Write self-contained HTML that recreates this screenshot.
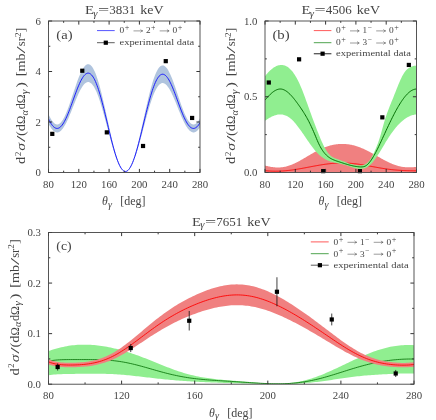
<!DOCTYPE html>
<html><head><meta charset="utf-8"><title>Angular correlations</title>
<style>
html,body{margin:0;padding:0;background:#fff;}
svg{display:block;will-change:transform;}
text{font-family:"Liberation Serif",serif;fill:#444444;}
</style></head>
<body>
<svg width="436" height="420" viewBox="0 0 436 420">
<rect width="436" height="420" fill="#fff"/>
<clipPath id="ca"><rect x="48.5" y="21.0" width="151.5" height="151.5"/></clipPath>
<g clip-path="url(#ca)">
<path d="M48.5 114.14 L49.26 115.79 L50.02 117.31 L50.77 118.71 L51.53 119.97 L52.29 121.09 L53.05 122.05 L53.8 122.86 L54.56 123.51 L55.32 124 L56.08 124.31 L56.83 124.46 L57.59 124.44 L58.35 124.25 L59.11 123.89 L59.86 123.36 L60.62 122.67 L61.38 121.82 L62.13 120.82 L62.89 119.66 L63.65 118.36 L64.41 116.92 L65.16 115.35 L65.92 113.66 L66.68 111.87 L67.44 109.96 L68.19 107.97 L68.95 105.9 L69.71 103.76 L70.47 101.57 L71.22 99.33 L71.98 97.06 L72.74 94.77 L73.5 92.47 L74.25 90.18 L75.01 87.92 L75.77 85.68 L76.53 83.5 L77.28 81.37 L78.04 79.32 L78.8 77.35 L79.56 75.48 L80.31 73.71 L81.07 72.07 L81.83 70.56 L82.59 69.18 L83.34 67.96 L84.1 66.89 L84.86 65.99 L85.62 65.27 L86.38 64.72 L87.13 64.36 L87.89 64.19 L88.65 64.22 L89.41 64.44 L90.16 64.86 L90.92 65.48 L91.68 66.3 L92.44 67.32 L93.19 68.53 L93.95 69.94 L94.71 71.54 L95.47 73.32 L96.22 75.28 L96.98 77.41 L97.74 79.71 L98.5 82.17 L99.25 84.78 L100.01 87.52 L100.77 90.39 L101.53 93.37 L102.28 96.46 L103.04 99.65 L103.8 102.91 L104.56 106.23 L105.31 109.61 L106.07 113.03 L106.83 116.47 L107.59 119.92 L108.34 123.37 L109.1 126.79 L109.86 130.18 L110.61 133.52 L111.37 136.8 L112.13 140.01 L112.89 143.12 L113.64 146.13 L114.4 149.02 L115.16 151.78 L115.92 154.39 L116.67 156.86 L117.43 159.16 L118.19 161.29 L118.95 163.23 L119.7 164.99 L120.46 166.54 L121.22 167.89 L121.98 169.02 L122.73 169.94 L123.49 170.64 L124.25 171.11 L125.01 171.36 L125.77 171.38 L126.52 171.18 L127.28 170.74 L128.04 170.09 L128.8 169.21 L129.55 168.12 L130.31 166.81 L131.07 165.3 L131.82 163.59 L132.58 161.68 L133.34 159.6 L134.1 157.33 L134.85 154.91 L135.61 152.33 L136.37 149.6 L137.13 146.75 L137.88 143.78 L138.64 140.7 L139.4 137.53 L140.16 134.29 L140.91 130.98 L141.67 127.62 L142.43 124.22 L143.19 120.81 L143.94 117.38 L144.7 113.97 L145.46 110.58 L146.22 107.23 L146.98 103.92 L147.73 100.68 L148.49 97.52 L149.25 94.45 L150 91.48 L150.76 88.63 L151.52 85.91 L152.28 83.32 L153.03 80.87 L153.79 78.58 L154.55 76.46 L155.31 74.51 L156.06 72.73 L156.82 71.14 L157.58 69.74 L158.34 68.53 L159.09 67.51 L159.85 66.69 L160.61 66.07 L161.37 65.65 L162.12 65.42 L162.88 65.39 L163.64 65.55 L164.4 65.9 L165.16 66.44 L165.91 67.15 L166.67 68.04 L167.43 69.09 L168.19 70.3 L168.94 71.65 L169.7 73.15 L170.46 74.77 L171.22 76.51 L171.97 78.36 L172.73 80.31 L173.49 82.34 L174.25 84.44 L175 86.6 L175.76 88.8 L176.52 91.04 L177.28 93.3 L178.03 95.56 L178.79 97.82 L179.55 100.06 L180.31 102.26 L181.06 104.42 L181.82 106.53 L182.58 108.56 L183.34 110.51 L184.09 112.38 L184.85 114.14 L185.61 115.79 L186.37 117.31 L187.12 118.71 L187.88 119.97 L188.64 121.09 L189.4 122.05 L190.15 122.86 L190.91 123.51 L191.67 124 L192.42 124.31 L193.18 124.46 L193.94 124.44 L194.7 124.25 L195.45 123.89 L196.21 123.36 L196.97 122.67 L197.73 121.82 L198.48 120.82 L199.24 119.66 L200 118.36 L200 127.3 L199.24 128.38 L198.48 129.35 L197.73 130.19 L196.97 130.9 L196.21 131.48 L195.45 131.92 L194.7 132.22 L193.94 132.38 L193.18 132.4 L192.42 132.27 L191.67 132.01 L190.91 131.6 L190.15 131.06 L189.4 130.38 L188.64 129.58 L187.88 128.65 L187.12 127.59 L186.37 126.43 L185.61 125.15 L184.85 123.78 L184.09 122.31 L183.34 120.75 L182.58 119.12 L181.82 117.42 L181.06 115.66 L180.31 113.86 L179.55 112.02 L178.79 110.15 L178.03 108.27 L177.28 106.38 L176.52 104.49 L175.76 102.62 L175 100.78 L174.25 98.98 L173.49 97.23 L172.73 95.53 L171.97 93.91 L171.22 92.37 L170.46 90.91 L169.7 89.55 L168.94 88.31 L168.19 87.17 L167.43 86.17 L166.67 85.29 L165.91 84.55 L165.16 83.95 L164.4 83.51 L163.64 83.21 L162.88 83.08 L162.12 83.1 L161.37 83.29 L160.61 83.65 L159.85 84.16 L159.09 84.85 L158.34 85.7 L157.58 86.71 L156.82 87.88 L156.06 89.21 L155.31 90.69 L154.55 92.32 L153.79 94.09 L153.03 96 L152.28 98.04 L151.52 100.21 L150.76 102.48 L150 104.86 L149.25 107.34 L148.49 109.9 L147.73 112.54 L146.98 115.25 L146.22 118 L145.46 120.8 L144.7 123.64 L143.94 126.49 L143.19 129.34 L142.43 132.19 L141.67 135.03 L140.91 137.83 L140.16 140.6 L139.4 143.31 L138.64 145.95 L137.88 148.52 L137.13 151 L136.37 153.38 L135.61 155.66 L134.85 157.81 L134.1 159.84 L133.34 161.73 L132.58 163.47 L131.82 165.06 L131.07 166.49 L130.31 167.75 L129.55 168.84 L128.8 169.75 L128.04 170.49 L127.28 171.03 L126.52 171.39 L125.77 171.57 L125.01 171.55 L124.25 171.34 L123.49 170.95 L122.73 170.36 L121.98 169.6 L121.22 168.65 L120.46 167.52 L119.7 166.23 L118.95 164.76 L118.19 163.14 L117.43 161.36 L116.67 159.44 L115.92 157.38 L115.16 155.2 L114.4 152.89 L113.64 150.48 L112.89 147.97 L112.13 145.37 L111.37 142.7 L110.61 139.96 L109.86 137.17 L109.1 134.34 L108.34 131.48 L107.59 128.6 L106.83 125.72 L106.07 122.85 L105.31 120 L104.56 117.18 L103.8 114.4 L103.04 111.68 L102.28 109.02 L101.53 106.44 L100.77 103.95 L100.01 101.55 L99.25 99.26 L98.5 97.09 L97.74 95.04 L96.98 93.12 L96.22 91.33 L95.47 89.7 L94.71 88.21 L93.95 86.87 L93.19 85.7 L92.44 84.69 L91.68 83.84 L90.92 83.15 L90.16 82.64 L89.41 82.29 L88.65 82.1 L87.89 82.08 L87.13 82.22 L86.38 82.52 L85.62 82.98 L84.86 83.58 L84.1 84.33 L83.34 85.22 L82.59 86.24 L81.83 87.39 L81.07 88.65 L80.31 90.03 L79.56 91.5 L78.8 93.06 L78.04 94.71 L77.28 96.42 L76.53 98.2 L75.77 100.02 L75.01 101.88 L74.25 103.78 L73.5 105.69 L72.74 107.6 L71.98 109.52 L71.22 111.41 L70.47 113.28 L69.71 115.11 L68.95 116.9 L68.19 118.63 L67.44 120.29 L66.68 121.88 L65.92 123.38 L65.16 124.79 L64.41 126.1 L63.65 127.3 L62.89 128.38 L62.13 129.35 L61.38 130.19 L60.62 130.9 L59.86 131.48 L59.11 131.92 L58.35 132.22 L57.59 132.38 L56.83 132.4 L56.08 132.27 L55.32 132.01 L54.56 131.6 L53.8 131.06 L53.05 130.38 L52.29 129.58 L51.53 128.65 L50.77 127.59 L50.02 126.43 L49.26 125.15 L48.5 123.78 Z" fill="#B0C4DE" stroke="none"/>
<path d="M48.5 118.96 L49.26 120.47 L50.02 121.87 L50.77 123.15 L51.53 124.31 L52.29 125.33 L53.05 126.22 L53.8 126.96 L54.56 127.56 L55.32 128 L56.08 128.29 L56.83 128.43 L57.59 128.41 L58.35 128.23 L59.11 127.9 L59.86 127.42 L60.62 126.79 L61.38 126.01 L62.13 125.08 L62.89 124.02 L63.65 122.83 L64.41 121.51 L65.16 120.07 L65.92 118.52 L66.68 116.87 L67.44 115.13 L68.19 113.3 L68.95 111.4 L69.71 109.44 L70.47 107.42 L71.22 105.37 L71.98 103.29 L72.74 101.19 L73.5 99.08 L74.25 96.98 L75.01 94.9 L75.77 92.85 L76.53 90.85 L77.28 88.9 L78.04 87.01 L78.8 85.21 L79.56 83.49 L80.31 81.87 L81.07 80.36 L81.83 78.97 L82.59 77.71 L83.34 76.59 L84.1 75.61 L84.86 74.79 L85.62 74.12 L86.38 73.62 L87.13 73.29 L87.89 73.14 L88.65 73.16 L89.41 73.36 L90.16 73.75 L90.92 74.32 L91.68 75.07 L92.44 76 L93.19 77.11 L93.95 78.41 L94.71 79.87 L95.47 81.51 L96.22 83.31 L96.98 85.27 L97.74 87.38 L98.5 89.63 L99.25 92.02 L100.01 94.53 L100.77 97.17 L101.53 99.91 L102.28 102.74 L103.04 105.66 L103.8 108.65 L104.56 111.7 L105.31 114.8 L106.07 117.94 L106.83 121.1 L107.59 124.26 L108.34 127.42 L109.1 130.57 L109.86 133.68 L110.61 136.74 L111.37 139.75 L112.13 142.69 L112.89 145.54 L113.64 148.3 L114.4 150.95 L115.16 153.49 L115.92 155.89 L116.67 158.15 L117.43 160.26 L118.19 162.21 L118.95 164 L119.7 165.61 L120.46 167.03 L121.22 168.27 L121.98 169.31 L122.73 170.15 L123.49 170.79 L124.25 171.23 L125.01 171.45 L125.77 171.47 L126.52 171.28 L127.28 170.89 L128.04 170.29 L128.8 169.48 L129.55 168.48 L130.31 167.28 L131.07 165.89 L131.82 164.32 L132.58 162.58 L133.34 160.66 L134.1 158.59 L134.85 156.36 L135.61 153.99 L136.37 151.49 L137.13 148.88 L137.88 146.15 L138.64 143.33 L139.4 140.42 L140.16 137.44 L140.91 134.41 L141.67 131.32 L142.43 128.21 L143.19 125.07 L143.94 121.93 L144.7 118.8 L145.46 115.69 L146.22 112.61 L146.98 109.58 L147.73 106.61 L148.49 103.71 L149.25 100.9 L150 98.17 L150.76 95.56 L151.52 93.06 L152.28 90.68 L153.03 88.44 L153.79 86.34 L154.55 84.39 L155.31 82.6 L156.06 80.97 L156.82 79.51 L157.58 78.22 L158.34 77.11 L159.09 76.18 L159.85 75.43 L160.61 74.86 L161.37 74.47 L162.12 74.26 L162.88 74.23 L163.64 74.38 L164.4 74.71 L165.16 75.2 L165.91 75.85 L166.67 76.66 L167.43 77.63 L168.19 78.74 L168.94 79.98 L169.7 81.35 L170.46 82.84 L171.22 84.44 L171.97 86.14 L172.73 87.92 L173.49 89.78 L174.25 91.71 L175 93.69 L175.76 95.71 L176.52 97.77 L177.28 99.84 L178.03 101.91 L178.79 103.99 L179.55 106.04 L180.31 108.06 L181.06 110.04 L181.82 111.97 L182.58 113.84 L183.34 115.63 L184.09 117.34 L184.85 118.96 L185.61 120.47 L186.37 121.87 L187.12 123.15 L187.88 124.31 L188.64 125.33 L189.4 126.22 L190.15 126.96 L190.91 127.56 L191.67 128 L192.42 128.29 L193.18 128.43 L193.94 128.41 L194.7 128.23 L195.45 127.9 L196.21 127.42 L196.97 126.79 L197.73 126.01 L198.48 125.08 L199.24 124.02 L200 122.83" fill="none" stroke="#1414ff" stroke-width="0.95" stroke-linejoin="round"/>
</g>
<rect x="50.19" y="131.77" width="4.2" height="4.2" fill="#000"/>
<rect x="80.18" y="68.64" width="4.2" height="4.2" fill="#000"/>
<rect x="104.73" y="130.25" width="4.2" height="4.2" fill="#000"/>
<rect x="140.94" y="143.89" width="4.2" height="4.2" fill="#000"/>
<rect x="163.66" y="59.05" width="4.2" height="4.2" fill="#000"/>
<rect x="190.02" y="115.86" width="4.2" height="4.2" fill="#000"/>
<path d="M48.5 172.5 v-3.6 M48.5 21.0 v3.6" stroke="#2a2a2a" stroke-width="0.95" fill="none"/>
<path d="M63.65 172.5 v-1.8 M63.65 21.0 v1.8" stroke="#2a2a2a" stroke-width="0.95" fill="none"/>
<path d="M78.8 172.5 v-3.6 M78.8 21.0 v3.6" stroke="#2a2a2a" stroke-width="0.95" fill="none"/>
<path d="M93.95 172.5 v-1.8 M93.95 21.0 v1.8" stroke="#2a2a2a" stroke-width="0.95" fill="none"/>
<path d="M109.1 172.5 v-3.6 M109.1 21.0 v3.6" stroke="#2a2a2a" stroke-width="0.95" fill="none"/>
<path d="M124.25 172.5 v-1.8 M124.25 21.0 v1.8" stroke="#2a2a2a" stroke-width="0.95" fill="none"/>
<path d="M139.4 172.5 v-3.6 M139.4 21.0 v3.6" stroke="#2a2a2a" stroke-width="0.95" fill="none"/>
<path d="M154.55 172.5 v-1.8 M154.55 21.0 v1.8" stroke="#2a2a2a" stroke-width="0.95" fill="none"/>
<path d="M169.7 172.5 v-3.6 M169.7 21.0 v3.6" stroke="#2a2a2a" stroke-width="0.95" fill="none"/>
<path d="M184.85 172.5 v-1.8 M184.85 21.0 v1.8" stroke="#2a2a2a" stroke-width="0.95" fill="none"/>
<path d="M200 172.5 v-3.6 M200 21.0 v3.6" stroke="#2a2a2a" stroke-width="0.95" fill="none"/>
<path d="M48.5 147.25 h1.8 M200.0 147.25 h-1.8" stroke="#2a2a2a" stroke-width="0.95" fill="none"/>
<path d="M48.5 96.75 h1.8 M200.0 96.75 h-1.8" stroke="#2a2a2a" stroke-width="0.95" fill="none"/>
<path d="M48.5 46.25 h1.8 M200.0 46.25 h-1.8" stroke="#2a2a2a" stroke-width="0.95" fill="none"/>
<path d="M48.5 172.5 h3.6 M200.0 172.5 h-3.6" stroke="#2a2a2a" stroke-width="0.95" fill="none"/>
<path d="M48.5 122 h3.6 M200.0 122 h-3.6" stroke="#2a2a2a" stroke-width="0.95" fill="none"/>
<path d="M48.5 71.5 h3.6 M200.0 71.5 h-3.6" stroke="#2a2a2a" stroke-width="0.95" fill="none"/>
<path d="M48.5 21 h3.6 M200.0 21 h-3.6" stroke="#2a2a2a" stroke-width="0.95" fill="none"/>
<rect x="48.5" y="21.0" width="151.5" height="151.5" fill="none" stroke="#444444" stroke-width="0.9"/>
<text x="48.5" y="187.5" font-size="10.8" text-anchor="middle">80</text>
<text x="78.8" y="187.5" font-size="10.8" text-anchor="middle">120</text>
<text x="109.1" y="187.5" font-size="10.8" text-anchor="middle">160</text>
<text x="139.4" y="187.5" font-size="10.8" text-anchor="middle">200</text>
<text x="169.7" y="187.5" font-size="10.8" text-anchor="middle">240</text>
<text x="200" y="187.5" font-size="10.8" text-anchor="middle">280</text>
<text x="40.9" y="176.1" font-size="10.8" text-anchor="end">0</text>
<text x="40.9" y="125.6" font-size="10.8" text-anchor="end">2</text>
<text x="40.9" y="75.1" font-size="10.8" text-anchor="end">4</text>
<text x="40.9" y="24.6" font-size="10.8" text-anchor="end">6</text>
<text x="84.95" y="14.1" font-size="13" textLength="9" lengthAdjust="spacingAndGlyphs">E</text><text x="93.15" y="16.5" font-size="9.5" textLength="4.2" lengthAdjust="spacingAndGlyphs" font-style="italic">γ</text><text x="98.05" y="14.1" font-size="13" textLength="11.2" lengthAdjust="spacingAndGlyphs">=</text><text x="109.25" y="14.1" font-size="13" textLength="26" lengthAdjust="spacingAndGlyphs">3831</text><text x="140.15" y="14.1" font-size="13" textLength="23.4" lengthAdjust="spacingAndGlyphs">keV</text>
<text x="101.95" y="205.3" font-size="13" textLength="5.8" lengthAdjust="spacingAndGlyphs" font-style="italic">θ</text><text x="108.05" y="207.7" font-size="9.5" textLength="4" lengthAdjust="spacingAndGlyphs" font-style="italic">γ</text><text x="120.15" y="205.3" font-size="13" textLength="25.3" lengthAdjust="spacingAndGlyphs">[deg]</text>
<g transform="translate(25.4 164.0) rotate(-90)"><text x="0" y="0" font-size="13" textLength="7.2" lengthAdjust="spacingAndGlyphs">d</text><text x="7.9" y="-4.7" font-size="9" textLength="4.3" lengthAdjust="spacingAndGlyphs">2</text><text x="13.3" y="0" font-size="13" textLength="7.8" lengthAdjust="spacingAndGlyphs" font-style="italic">σ</text><text x="21.9" y="0" font-size="13" textLength="6.5" lengthAdjust="spacingAndGlyphs">/</text><text x="28" y="0" font-size="13" textLength="11.9" lengthAdjust="spacingAndGlyphs">(d</text><text x="40.1" y="0" font-size="13" textLength="8.3" lengthAdjust="spacingAndGlyphs">Ω</text><text x="48.5" y="2.2" font-size="9.5" textLength="5.3" lengthAdjust="spacingAndGlyphs" font-style="italic">α</text><text x="54.7" y="0" font-size="13" textLength="14.9" lengthAdjust="spacingAndGlyphs">dΩ</text><text x="69.8" y="2.2" font-size="9.5" textLength="4.6" lengthAdjust="spacingAndGlyphs" font-style="italic">γ</text><text x="76.6" y="0" font-size="13" textLength="5.4" lengthAdjust="spacingAndGlyphs">)</text><text x="87.8" y="0" font-size="13" textLength="22.8" lengthAdjust="spacingAndGlyphs">[mb</text><text x="110.5" y="0" font-size="13" textLength="7.4" lengthAdjust="spacingAndGlyphs">/</text><text x="117.8" y="0" font-size="13" textLength="9" lengthAdjust="spacingAndGlyphs">sr</text><text x="126.9" y="-4.7" font-size="9" textLength="4.5" lengthAdjust="spacingAndGlyphs">2</text><text x="131.6" y="0" font-size="13" textLength="5" lengthAdjust="spacingAndGlyphs">]</text></g>
<text x="56.3" y="38.8" font-size="13" textLength="16.2" lengthAdjust="spacingAndGlyphs">(a)</text>
<path d="M97 30.6 H114.7" stroke="#2a2aff" stroke-width="0.8"/>
<text x="119.5" y="33.2" font-size="9" textLength="4.7" lengthAdjust="spacingAndGlyphs" fill="#4a4a4a">0</text><text x="124.8" y="30.1" font-size="7.5" textLength="4.6" lengthAdjust="spacingAndGlyphs" fill="#4a4a4a">+</text><path d="M133.5 30.9 H142.7" stroke="#4a4a4a" stroke-width="0.55" fill="none"/><path d="M140.5 29.4 Q141.5 30.6 142.7 30.9 Q141.5 31.2 140.5 32.4" stroke="#4a4a4a" stroke-width="0.55" fill="none"/><text x="146.1" y="33.2" font-size="9" textLength="4.6" lengthAdjust="spacingAndGlyphs" fill="#4a4a4a">2</text><text x="150.9" y="30.1" font-size="7.5" textLength="4.4" lengthAdjust="spacingAndGlyphs" fill="#4a4a4a">+</text><path d="M159.7 30.9 H169.1" stroke="#4a4a4a" stroke-width="0.55" fill="none"/><path d="M166.9 29.4 Q167.9 30.6 169.1 30.9 Q167.9 31.2 166.9 32.4" stroke="#4a4a4a" stroke-width="0.55" fill="none"/><text x="172.5" y="33.2" font-size="9" textLength="4.7" lengthAdjust="spacingAndGlyphs" fill="#4a4a4a">0</text><text x="177.8" y="30.1" font-size="7.5" textLength="4.6" lengthAdjust="spacingAndGlyphs" fill="#4a4a4a">+</text>
<path d="M97 42.7 H114.7" stroke="#333" stroke-width="0.8"/>
<rect x="103.7" y="40.6" width="4.2" height="4.2" fill="#000"/>
<text x="119.5" y="45.3" font-size="9" textLength="74.7" lengthAdjust="spacingAndGlyphs" fill="#4a4a4a">experimental data</text>
<clipPath id="cb"><rect x="265.0" y="21.0" width="151.5" height="151.5"/></clipPath>
<g clip-path="url(#cb)">
<path d="M265 165.56 L265.76 165.75 L266.51 165.93 L267.27 166.11 L268.03 166.29 L268.79 166.45 L269.55 166.61 L270.3 166.75 L271.06 166.89 L271.82 167.01 L272.57 167.12 L273.33 167.22 L274.09 167.3 L274.85 167.37 L275.61 167.43 L276.36 167.47 L277.12 167.49 L277.88 167.5 L278.63 167.49 L279.39 167.47 L280.15 167.43 L280.91 167.37 L281.67 167.29 L282.42 167.2 L283.18 167.09 L283.94 166.96 L284.69 166.81 L285.45 166.65 L286.21 166.47 L286.97 166.27 L287.73 166.05 L288.48 165.82 L289.24 165.57 L290 165.31 L290.75 165.03 L291.51 164.74 L292.27 164.44 L293.03 164.12 L293.79 163.78 L294.54 163.44 L295.3 163.08 L296.06 162.71 L296.81 162.33 L297.57 161.94 L298.33 161.54 L299.09 161.13 L299.85 160.72 L300.6 160.3 L301.36 159.87 L302.12 159.44 L302.88 159 L303.63 158.56 L304.39 158.11 L305.15 157.66 L305.9 157.22 L306.66 156.77 L307.42 156.32 L308.18 155.87 L308.94 155.42 L309.69 154.97 L310.45 154.53 L311.21 154.09 L311.96 153.65 L312.72 153.22 L313.48 152.79 L314.24 152.37 L315 151.95 L315.75 151.54 L316.51 151.14 L317.27 150.75 L318.02 150.36 L318.78 149.98 L319.54 149.61 L320.3 149.26 L321.06 148.91 L321.81 148.57 L322.57 148.24 L323.33 147.92 L324.08 147.61 L324.84 147.31 L325.6 147.03 L326.36 146.76 L327.12 146.49 L327.87 146.24 L328.63 146.01 L329.39 145.78 L330.14 145.57 L330.9 145.37 L331.66 145.18 L332.42 145.01 L333.18 144.84 L333.93 144.69 L334.69 144.56 L335.45 144.43 L336.2 144.32 L336.96 144.23 L337.72 144.14 L338.48 144.07 L339.24 144.01 L339.99 143.97 L340.75 143.93 L341.51 143.91 L342.26 143.91 L343.02 143.92 L343.78 143.94 L344.54 143.97 L345.3 144.02 L346.05 144.07 L346.81 144.15 L347.57 144.23 L348.32 144.33 L349.08 144.44 L349.84 144.57 L350.6 144.7 L351.36 144.85 L352.11 145.01 L352.87 145.19 L353.63 145.37 L354.38 145.57 L355.14 145.78 L355.9 146.01 L356.66 146.24 L357.41 146.49 L358.17 146.75 L358.93 147.01 L359.69 147.3 L360.44 147.59 L361.2 147.89 L361.96 148.2 L362.72 148.52 L363.48 148.86 L364.23 149.2 L364.99 149.55 L365.75 149.91 L366.5 150.28 L367.26 150.65 L368.02 151.04 L368.78 151.43 L369.53 151.82 L370.29 152.23 L371.05 152.64 L371.81 153.05 L372.56 153.47 L373.32 153.89 L374.08 154.32 L374.84 154.75 L375.6 155.18 L376.35 155.62 L377.11 156.05 L377.87 156.49 L378.62 156.92 L379.38 157.35 L380.14 157.78 L380.9 158.21 L381.65 158.64 L382.41 159.06 L383.17 159.48 L383.93 159.89 L384.69 160.3 L385.44 160.7 L386.2 161.1 L386.96 161.48 L387.72 161.86 L388.47 162.23 L389.23 162.59 L389.99 162.94 L390.75 163.28 L391.5 163.61 L392.26 163.92 L393.02 164.22 L393.77 164.52 L394.53 164.79 L395.29 165.06 L396.05 165.31 L396.81 165.55 L397.56 165.77 L398.32 165.98 L399.08 166.17 L399.84 166.35 L400.59 166.51 L401.35 166.66 L402.11 166.8 L402.87 166.92 L403.62 167.02 L404.38 167.11 L405.14 167.19 L405.89 167.25 L406.65 167.3 L407.41 167.34 L408.17 167.36 L408.92 167.37 L409.68 167.36 L410.44 167.35 L411.2 167.32 L411.95 167.29 L412.71 167.24 L413.47 167.19 L414.23 167.12 L414.99 167.05 L415.74 166.98 L416.5 166.89 L416.5 172.5 L415.74 172.5 L414.99 172.5 L414.23 172.5 L413.47 172.5 L412.71 172.5 L411.95 172.5 L411.2 172.5 L410.44 172.5 L409.68 172.5 L408.92 172.5 L408.17 172.5 L407.41 172.5 L406.65 172.5 L405.89 172.5 L405.14 172.5 L404.38 172.5 L403.62 172.5 L402.87 172.5 L402.11 172.5 L401.35 172.5 L400.59 172.5 L399.84 172.5 L399.08 172.5 L398.32 172.5 L397.56 172.5 L396.81 172.5 L396.05 172.5 L395.29 172.5 L394.53 172.5 L393.77 172.5 L393.02 172.5 L392.26 172.5 L391.5 172.5 L390.75 172.5 L389.99 172.5 L389.23 172.5 L388.47 172.5 L387.72 172.5 L386.96 172.5 L386.2 172.5 L385.44 172.5 L384.69 172.5 L383.93 172.5 L383.17 172.5 L382.41 172.5 L381.65 172.5 L380.9 172.5 L380.14 172.5 L379.38 172.5 L378.62 172.5 L377.87 172.5 L377.11 172.5 L376.35 172.5 L375.6 172.5 L374.84 172.5 L374.08 172.5 L373.32 172.5 L372.56 172.5 L371.81 172.5 L371.05 172.5 L370.29 172.5 L369.53 172.5 L368.78 172.5 L368.02 172.5 L367.26 172.5 L366.5 172.5 L365.75 172.5 L364.99 172.5 L364.23 172.5 L363.48 172.5 L362.72 172.5 L361.96 172.5 L361.2 172.5 L360.44 172.5 L359.69 172.5 L358.93 172.5 L358.17 172.5 L357.41 172.5 L356.66 172.5 L355.9 172.5 L355.14 172.5 L354.38 172.5 L353.63 172.5 L352.87 172.5 L352.11 172.5 L351.36 172.5 L350.6 172.5 L349.84 172.5 L349.08 172.5 L348.32 172.5 L347.57 172.5 L346.81 172.5 L346.05 172.5 L345.3 172.5 L344.54 172.5 L343.78 172.5 L343.02 172.5 L342.26 172.5 L341.51 172.5 L340.75 172.5 L339.99 172.5 L339.24 172.5 L338.48 172.5 L337.72 172.5 L336.96 172.5 L336.2 172.5 L335.45 172.5 L334.69 172.5 L333.93 172.5 L333.18 172.5 L332.42 172.5 L331.66 172.5 L330.9 172.5 L330.14 172.5 L329.39 172.5 L328.63 172.5 L327.87 172.5 L327.12 172.5 L326.36 172.5 L325.6 172.5 L324.84 172.5 L324.08 172.5 L323.33 172.5 L322.57 172.5 L321.81 172.5 L321.06 172.5 L320.3 172.5 L319.54 172.5 L318.78 172.5 L318.02 172.5 L317.27 172.5 L316.51 172.5 L315.75 172.5 L315 172.5 L314.24 172.5 L313.48 172.5 L312.72 172.5 L311.96 172.5 L311.21 172.5 L310.45 172.5 L309.69 172.5 L308.94 172.5 L308.18 172.5 L307.42 172.5 L306.66 172.5 L305.9 172.5 L305.15 172.5 L304.39 172.5 L303.63 172.5 L302.88 172.5 L302.12 172.5 L301.36 172.5 L300.6 172.5 L299.85 172.5 L299.09 172.5 L298.33 172.5 L297.57 172.5 L296.81 172.5 L296.06 172.5 L295.3 172.5 L294.54 172.5 L293.79 172.5 L293.03 172.5 L292.27 172.5 L291.51 172.5 L290.75 172.5 L290 172.5 L289.24 172.5 L288.48 172.5 L287.73 172.5 L286.97 172.5 L286.21 172.5 L285.45 172.5 L284.69 172.5 L283.94 172.5 L283.18 172.5 L282.42 172.5 L281.67 172.5 L280.91 172.5 L280.15 172.5 L279.39 172.5 L278.63 172.5 L277.88 172.5 L277.12 172.5 L276.36 172.5 L275.61 172.5 L274.85 172.5 L274.09 172.5 L273.33 172.5 L272.57 172.5 L271.82 172.5 L271.06 172.5 L270.3 172.5 L269.55 172.5 L268.79 172.5 L268.03 172.5 L267.27 172.5 L266.51 172.5 L265.76 172.5 L265 172.5 Z" fill="#F08080" stroke="none"/>
<path d="M265 170.63 L265.76 170.71 L266.51 170.78 L267.27 170.85 L268.03 170.91 L268.79 170.97 L269.55 171.02 L270.3 171.06 L271.06 171.1 L271.82 171.13 L272.57 171.16 L273.33 171.18 L274.09 171.19 L274.85 171.2 L275.61 171.21 L276.36 171.2 L277.12 171.2 L277.88 171.18 L278.63 171.16 L279.39 171.14 L280.15 171.11 L280.91 171.07 L281.67 171.03 L282.42 170.99 L283.18 170.94 L283.94 170.88 L284.69 170.82 L285.45 170.75 L286.21 170.68 L286.97 170.61 L287.73 170.53 L288.48 170.44 L289.24 170.36 L290 170.26 L290.75 170.17 L291.51 170.07 L292.27 169.97 L293.03 169.86 L293.79 169.75 L294.54 169.64 L295.3 169.52 L296.06 169.4 L296.81 169.28 L297.57 169.15 L298.33 169.03 L299.09 168.9 L299.85 168.77 L300.6 168.63 L301.36 168.5 L302.12 168.36 L302.88 168.22 L303.63 168.08 L304.39 167.94 L305.15 167.8 L305.9 167.66 L306.66 167.52 L307.42 167.37 L308.18 167.23 L308.94 167.08 L309.69 166.94 L310.45 166.8 L311.21 166.65 L311.96 166.51 L312.72 166.37 L313.48 166.23 L314.24 166.09 L315 165.95 L315.75 165.81 L316.51 165.67 L317.27 165.54 L318.02 165.4 L318.78 165.27 L319.54 165.14 L320.3 165.02 L321.06 164.89 L321.81 164.77 L322.57 164.65 L323.33 164.54 L324.08 164.42 L324.84 164.32 L325.6 164.21 L326.36 164.11 L327.12 164.01 L327.87 163.91 L328.63 163.82 L329.39 163.74 L330.14 163.65 L330.9 163.57 L331.66 163.5 L332.42 163.43 L333.18 163.37 L333.93 163.31 L334.69 163.25 L335.45 163.2 L336.2 163.16 L336.96 163.12 L337.72 163.09 L338.48 163.06 L339.24 163.03 L339.99 163.01 L340.75 163 L341.51 162.99 L342.26 162.99 L343.02 163 L343.78 163.01 L344.54 163.02 L345.3 163.04 L346.05 163.07 L346.81 163.1 L347.57 163.13 L348.32 163.18 L349.08 163.22 L349.84 163.28 L350.6 163.33 L351.36 163.4 L352.11 163.46 L352.87 163.54 L353.63 163.61 L354.38 163.7 L355.14 163.78 L355.9 163.87 L356.66 163.97 L357.41 164.07 L358.17 164.17 L358.93 164.28 L359.69 164.39 L360.44 164.5 L361.2 164.62 L361.96 164.74 L362.72 164.86 L363.48 164.98 L364.23 165.11 L364.99 165.24 L365.75 165.37 L366.5 165.5 L367.26 165.64 L368.02 165.77 L368.78 165.91 L369.53 166.05 L370.29 166.19 L371.05 166.33 L371.81 166.47 L372.56 166.61 L373.32 166.75 L374.08 166.88 L374.84 167.02 L375.6 167.16 L376.35 167.3 L377.11 167.43 L377.87 167.57 L378.62 167.7 L379.38 167.83 L380.14 167.96 L380.9 168.09 L381.65 168.21 L382.41 168.33 L383.17 168.45 L383.93 168.57 L384.69 168.68 L385.44 168.8 L386.2 168.91 L386.96 169.01 L387.72 169.12 L388.47 169.22 L389.23 169.31 L389.99 169.41 L390.75 169.5 L391.5 169.58 L392.26 169.67 L393.02 169.75 L393.77 169.83 L394.53 169.9 L395.29 169.97 L396.05 170.04 L396.81 170.1 L397.56 170.16 L398.32 170.22 L399.08 170.27 L399.84 170.33 L400.59 170.37 L401.35 170.42 L402.11 170.46 L402.87 170.5 L403.62 170.54 L404.38 170.57 L405.14 170.6 L405.89 170.63 L406.65 170.65 L407.41 170.68 L408.17 170.7 L408.92 170.72 L409.68 170.73 L410.44 170.75 L411.2 170.76 L411.95 170.77 L412.71 170.78 L413.47 170.78 L414.23 170.79 L414.99 170.79 L415.74 170.79 L416.5 170.79" fill="none" stroke="#ff0000" stroke-width="0.9" stroke-linejoin="round"/>
<path d="M265 76.14 L265.76 75.2 L266.51 74.3 L267.27 73.43 L268.03 72.6 L268.79 71.81 L269.55 71.05 L270.3 70.33 L271.06 69.65 L271.82 69.02 L272.57 68.42 L273.33 67.87 L274.09 67.36 L274.85 66.9 L275.61 66.48 L276.36 66.11 L277.12 65.79 L277.88 65.52 L278.63 65.3 L279.39 65.14 L280.15 65.02 L280.91 64.97 L281.67 64.96 L282.42 65.02 L283.18 65.13 L283.94 65.3 L284.69 65.53 L285.45 65.82 L286.21 66.17 L286.97 66.59 L287.73 67.07 L288.48 67.62 L289.24 68.23 L290 68.91 L290.75 69.66 L291.51 70.48 L292.27 71.37 L293.03 72.34 L293.79 73.38 L294.54 74.49 L295.3 75.67 L296.06 76.94 L296.81 78.28 L297.57 79.7 L298.33 81.2 L299.09 82.79 L299.85 84.45 L300.6 86.19 L301.36 88 L302.12 89.87 L302.88 91.8 L303.63 93.77 L304.39 95.79 L305.15 97.84 L305.9 99.91 L306.66 102.01 L307.42 104.11 L308.18 106.23 L308.94 108.34 L309.69 110.44 L310.45 112.54 L311.21 114.62 L311.96 116.69 L312.72 118.75 L313.48 120.79 L314.24 122.81 L315 124.81 L315.75 126.8 L316.51 128.76 L317.27 130.7 L318.02 132.61 L318.78 134.49 L319.54 136.35 L320.3 138.17 L321.06 139.94 L321.81 141.67 L322.57 143.33 L323.33 144.93 L324.08 146.46 L324.84 147.92 L325.6 149.28 L326.36 150.56 L327.12 151.74 L327.87 152.81 L328.63 153.77 L329.39 154.61 L330.14 155.35 L330.9 156 L331.66 156.57 L332.42 157.06 L333.18 157.49 L333.93 157.87 L334.69 158.2 L335.45 158.5 L336.2 158.77 L336.96 159.03 L337.72 159.28 L338.48 159.54 L339.24 159.8 L339.99 160.07 L340.75 160.35 L341.51 160.63 L342.26 160.92 L343.02 161.2 L343.78 161.49 L344.54 161.78 L345.3 162.06 L346.05 162.35 L346.81 162.62 L347.57 162.9 L348.32 163.16 L349.08 163.42 L349.84 163.67 L350.6 163.9 L351.36 164.13 L352.11 164.34 L352.87 164.54 L353.63 164.72 L354.38 164.89 L355.14 165.04 L355.9 165.17 L356.66 165.27 L357.41 165.36 L358.17 165.42 L358.93 165.46 L359.69 165.48 L360.44 165.46 L361.2 165.41 L361.96 165.32 L362.72 165.18 L363.48 164.97 L364.23 164.71 L364.99 164.37 L365.75 163.96 L366.5 163.46 L367.26 162.86 L368.02 162.17 L368.78 161.36 L369.53 160.45 L370.29 159.41 L371.05 158.24 L371.81 156.94 L372.56 155.52 L373.32 154 L374.08 152.38 L374.84 150.7 L375.6 148.96 L376.35 147.18 L377.11 145.34 L377.87 143.39 L378.62 141.31 L379.38 139.06 L380.14 136.6 L380.9 133.97 L381.65 131.22 L382.41 128.43 L383.17 125.66 L383.93 122.99 L384.69 120.44 L385.44 118.04 L386.2 115.75 L386.96 113.56 L387.72 111.47 L388.47 109.45 L389.23 107.5 L389.99 105.59 L390.75 103.71 L391.5 101.86 L392.26 100.01 L393.02 98.15 L393.77 96.26 L394.53 94.35 L395.29 92.42 L396.05 90.48 L396.81 88.56 L397.56 86.65 L398.32 84.78 L399.08 82.95 L399.84 81.19 L400.59 79.49 L401.35 77.88 L402.11 76.37 L402.87 74.97 L403.62 73.68 L404.38 72.53 L405.14 71.49 L405.89 70.57 L406.65 69.76 L407.41 69.04 L408.17 68.42 L408.92 67.88 L409.68 67.41 L410.44 67.02 L411.2 66.69 L411.95 66.41 L412.71 66.19 L413.47 66 L414.23 65.85 L414.99 65.73 L415.74 65.63 L416.5 65.54 L416.5 114.48 L415.74 114.53 L414.99 114.62 L414.23 114.74 L413.47 114.9 L412.71 115.09 L411.95 115.31 L411.2 115.56 L410.44 115.85 L409.68 116.17 L408.92 116.53 L408.17 116.91 L407.41 117.33 L406.65 117.78 L405.89 118.26 L405.14 118.78 L404.38 119.32 L403.62 119.9 L402.87 120.51 L402.11 121.14 L401.35 121.81 L400.59 122.51 L399.84 123.24 L399.08 124.01 L398.32 124.8 L397.56 125.62 L396.81 126.47 L396.05 127.35 L395.29 128.26 L394.53 129.2 L393.77 130.16 L393.02 131.16 L392.26 132.18 L391.5 133.24 L390.75 134.32 L389.99 135.43 L389.23 136.57 L388.47 137.73 L387.72 138.92 L386.96 140.14 L386.2 141.37 L385.44 142.62 L384.69 143.88 L383.93 145.14 L383.17 146.41 L382.41 147.68 L381.65 148.95 L380.9 150.2 L380.14 151.45 L379.38 152.68 L378.62 153.89 L377.87 155.08 L377.11 156.24 L376.35 157.37 L375.6 158.46 L374.84 159.52 L374.08 160.53 L373.32 161.5 L372.56 162.41 L371.81 163.28 L371.05 164.08 L370.29 164.83 L369.53 165.5 L368.78 166.11 L368.02 166.65 L367.26 167.12 L366.5 167.53 L365.75 167.88 L364.99 168.17 L364.23 168.41 L363.48 168.6 L362.72 168.74 L361.96 168.83 L361.2 168.89 L360.44 168.9 L359.69 168.88 L358.93 168.83 L358.17 168.75 L357.41 168.64 L356.66 168.5 L355.9 168.35 L355.14 168.17 L354.38 167.98 L353.63 167.77 L352.87 167.54 L352.11 167.31 L351.36 167.06 L350.6 166.81 L349.84 166.56 L349.08 166.31 L348.32 166.05 L347.57 165.8 L346.81 165.55 L346.05 165.32 L345.3 165.09 L344.54 164.87 L343.78 164.67 L343.02 164.48 L342.26 164.3 L341.51 164.12 L340.75 163.96 L339.99 163.8 L339.24 163.64 L338.48 163.48 L337.72 163.32 L336.96 163.16 L336.2 163 L335.45 162.83 L334.69 162.66 L333.93 162.48 L333.18 162.29 L332.42 162.08 L331.66 161.86 L330.9 161.63 L330.14 161.38 L329.39 161.11 L328.63 160.83 L327.87 160.52 L327.12 160.19 L326.36 159.83 L325.6 159.44 L324.84 159.03 L324.08 158.59 L323.33 158.12 L322.57 157.61 L321.81 157.07 L321.06 156.49 L320.3 155.87 L319.54 155.21 L318.78 154.52 L318.02 153.78 L317.27 152.99 L316.51 152.17 L315.75 151.31 L315 150.42 L314.24 149.49 L313.48 148.54 L312.72 147.56 L311.96 146.55 L311.21 145.52 L310.45 144.47 L309.69 143.41 L308.94 142.33 L308.18 141.24 L307.42 140.14 L306.66 139.04 L305.9 137.92 L305.15 136.81 L304.39 135.7 L303.63 134.59 L302.88 133.49 L302.12 132.4 L301.36 131.31 L300.6 130.24 L299.85 129.19 L299.09 128.15 L298.33 127.14 L297.57 126.14 L296.81 125.18 L296.06 124.24 L295.3 123.33 L294.54 122.46 L293.79 121.62 L293.03 120.82 L292.27 120.06 L291.51 119.35 L290.75 118.68 L290 118.06 L289.24 117.49 L288.48 116.97 L287.73 116.51 L286.97 116.09 L286.21 115.73 L285.45 115.41 L284.69 115.14 L283.94 114.91 L283.18 114.73 L282.42 114.59 L281.67 114.5 L280.91 114.45 L280.15 114.43 L279.39 114.46 L278.63 114.52 L277.88 114.62 L277.12 114.76 L276.36 114.93 L275.61 115.13 L274.85 115.37 L274.09 115.64 L273.33 115.93 L272.57 116.26 L271.82 116.61 L271.06 116.99 L270.3 117.39 L269.55 117.82 L268.79 118.27 L268.03 118.75 L267.27 119.24 L266.51 119.76 L265.76 120.29 L265 120.84 Z" fill="#90EE90" stroke="none"/>
<path d="M265 100.08 L265.76 99.19 L266.51 98.31 L267.27 97.46 L268.03 96.63 L268.79 95.82 L269.55 95.05 L270.3 94.31 L271.06 93.61 L271.82 92.94 L272.57 92.32 L273.33 91.74 L274.09 91.21 L274.85 90.73 L275.61 90.3 L276.36 89.93 L277.12 89.62 L277.88 89.37 L278.63 89.18 L279.39 89.06 L280.15 89.01 L280.91 89.03 L281.67 89.12 L282.42 89.29 L283.18 89.52 L283.94 89.82 L284.69 90.19 L285.45 90.61 L286.21 91.09 L286.97 91.63 L287.73 92.22 L288.48 92.86 L289.24 93.54 L290 94.28 L290.75 95.05 L291.51 95.86 L292.27 96.72 L293.03 97.6 L293.79 98.52 L294.54 99.47 L295.3 100.44 L296.06 101.44 L296.81 102.46 L297.57 103.49 L298.33 104.55 L299.09 105.62 L299.85 106.7 L300.6 107.79 L301.36 108.9 L302.12 110.04 L302.88 111.19 L303.63 112.38 L304.39 113.59 L305.15 114.84 L305.9 116.12 L306.66 117.44 L307.42 118.8 L308.18 120.21 L308.94 121.67 L309.69 123.18 L310.45 124.74 L311.21 126.34 L311.96 127.99 L312.72 129.68 L313.48 131.41 L314.24 133.17 L315 134.97 L315.75 136.79 L316.51 138.61 L317.27 140.4 L318.02 142.14 L318.78 143.79 L319.54 145.33 L320.3 146.77 L321.06 148.12 L321.81 149.36 L322.57 150.52 L323.33 151.6 L324.08 152.59 L324.84 153.51 L325.6 154.35 L326.36 155.12 L327.12 155.83 L327.87 156.48 L328.63 157.07 L329.39 157.62 L330.14 158.11 L330.9 158.56 L331.66 158.97 L332.42 159.35 L333.18 159.7 L333.93 160.02 L334.69 160.31 L335.45 160.59 L336.2 160.86 L336.96 161.12 L337.72 161.37 L338.48 161.62 L339.24 161.87 L339.99 162.12 L340.75 162.37 L341.51 162.62 L342.26 162.87 L343.02 163.12 L343.78 163.36 L344.54 163.6 L345.3 163.83 L346.05 164.07 L346.81 164.29 L347.57 164.51 L348.32 164.73 L349.08 164.94 L349.84 165.14 L350.6 165.33 L351.36 165.52 L352.11 165.7 L352.87 165.86 L353.63 166.02 L354.38 166.17 L355.14 166.31 L355.9 166.44 L356.66 166.55 L357.41 166.65 L358.17 166.74 L358.93 166.82 L359.69 166.88 L360.44 166.93 L361.2 166.94 L361.96 166.92 L362.72 166.84 L363.48 166.71 L364.23 166.5 L364.99 166.21 L365.75 165.82 L366.5 165.33 L367.26 164.72 L368.02 164.02 L368.78 163.21 L369.53 162.32 L370.29 161.34 L371.05 160.28 L371.81 159.16 L372.56 157.97 L373.32 156.72 L374.08 155.41 L374.84 154.05 L375.6 152.65 L376.35 151.2 L377.11 149.71 L377.87 148.18 L378.62 146.63 L379.38 145.05 L380.14 143.45 L380.9 141.83 L381.65 140.19 L382.41 138.55 L383.17 136.9 L383.93 135.25 L384.69 133.61 L385.44 131.97 L386.2 130.34 L386.96 128.71 L387.72 127.1 L388.47 125.49 L389.23 123.9 L389.99 122.33 L390.75 120.77 L391.5 119.23 L392.26 117.71 L393.02 116.21 L393.77 114.73 L394.53 113.28 L395.29 111.85 L396.05 110.45 L396.81 109.08 L397.56 107.75 L398.32 106.44 L399.08 105.17 L399.84 103.93 L400.59 102.73 L401.35 101.57 L402.11 100.45 L402.87 99.38 L403.62 98.34 L404.38 97.35 L405.14 96.41 L405.89 95.52 L406.65 94.68 L407.41 93.89 L408.17 93.15 L408.92 92.47 L409.68 91.84 L410.44 91.28 L411.2 90.77 L411.95 90.32 L412.71 89.94 L413.47 89.62 L414.23 89.37 L414.99 89.19 L415.74 89.07 L416.5 89.03" fill="none" stroke="#006c00" stroke-width="1.0" stroke-linejoin="round"/>
</g>
<rect x="266.69" y="80.41" width="4.2" height="4.2" fill="#000"/>
<rect x="296.99" y="57.23" width="4.2" height="4.2" fill="#000"/>
<rect x="321.08" y="169.04" width="4.2" height="4.2" fill="#000"/>
<rect x="357.81" y="169.04" width="4.2" height="4.2" fill="#000"/>
<rect x="380.24" y="115.25" width="4.2" height="4.2" fill="#000"/>
<rect x="406.75" y="62.84" width="4.2" height="4.2" fill="#000"/>
<path d="M265 172.5 v-3.6 M265 21.0 v3.6" stroke="#2a2a2a" stroke-width="0.95" fill="none"/>
<path d="M280.15 172.5 v-1.8 M280.15 21.0 v1.8" stroke="#2a2a2a" stroke-width="0.95" fill="none"/>
<path d="M295.3 172.5 v-3.6 M295.3 21.0 v3.6" stroke="#2a2a2a" stroke-width="0.95" fill="none"/>
<path d="M310.45 172.5 v-1.8 M310.45 21.0 v1.8" stroke="#2a2a2a" stroke-width="0.95" fill="none"/>
<path d="M325.6 172.5 v-3.6 M325.6 21.0 v3.6" stroke="#2a2a2a" stroke-width="0.95" fill="none"/>
<path d="M340.75 172.5 v-1.8 M340.75 21.0 v1.8" stroke="#2a2a2a" stroke-width="0.95" fill="none"/>
<path d="M355.9 172.5 v-3.6 M355.9 21.0 v3.6" stroke="#2a2a2a" stroke-width="0.95" fill="none"/>
<path d="M371.05 172.5 v-1.8 M371.05 21.0 v1.8" stroke="#2a2a2a" stroke-width="0.95" fill="none"/>
<path d="M386.2 172.5 v-3.6 M386.2 21.0 v3.6" stroke="#2a2a2a" stroke-width="0.95" fill="none"/>
<path d="M401.35 172.5 v-1.8 M401.35 21.0 v1.8" stroke="#2a2a2a" stroke-width="0.95" fill="none"/>
<path d="M416.5 172.5 v-3.6 M416.5 21.0 v3.6" stroke="#2a2a2a" stroke-width="0.95" fill="none"/>
<path d="M265.0 134.62 h1.8 M416.5 134.62 h-1.8" stroke="#2a2a2a" stroke-width="0.95" fill="none"/>
<path d="M265.0 58.88 h1.8 M416.5 58.88 h-1.8" stroke="#2a2a2a" stroke-width="0.95" fill="none"/>
<path d="M265.0 172.5 h3.6 M416.5 172.5 h-3.6" stroke="#2a2a2a" stroke-width="0.95" fill="none"/>
<path d="M265.0 96.75 h3.6 M416.5 96.75 h-3.6" stroke="#2a2a2a" stroke-width="0.95" fill="none"/>
<path d="M265.0 21 h3.6 M416.5 21 h-3.6" stroke="#2a2a2a" stroke-width="0.95" fill="none"/>
<rect x="265.0" y="21.0" width="151.5" height="151.5" fill="none" stroke="#444444" stroke-width="0.9"/>
<text x="265" y="187.5" font-size="10.8" text-anchor="middle">80</text>
<text x="295.3" y="187.5" font-size="10.8" text-anchor="middle">120</text>
<text x="325.6" y="187.5" font-size="10.8" text-anchor="middle">160</text>
<text x="355.9" y="187.5" font-size="10.8" text-anchor="middle">200</text>
<text x="386.2" y="187.5" font-size="10.8" text-anchor="middle">240</text>
<text x="416.5" y="187.5" font-size="10.8" text-anchor="middle">280</text>
<text x="257.4" y="176.1" font-size="10.8" text-anchor="end">0.0</text>
<text x="257.4" y="100.35" font-size="10.8" text-anchor="end">0.5</text>
<text x="257.4" y="24.6" font-size="10.8" text-anchor="end">1.0</text>
<text x="301.45" y="14.1" font-size="13" textLength="9" lengthAdjust="spacingAndGlyphs">E</text><text x="309.65" y="16.5" font-size="9.5" textLength="4.2" lengthAdjust="spacingAndGlyphs" font-style="italic">γ</text><text x="314.55" y="14.1" font-size="13" textLength="11.2" lengthAdjust="spacingAndGlyphs">=</text><text x="325.75" y="14.1" font-size="13" textLength="26" lengthAdjust="spacingAndGlyphs">4506</text><text x="356.65" y="14.1" font-size="13" textLength="23.4" lengthAdjust="spacingAndGlyphs">keV</text>
<text x="318.45" y="205.3" font-size="13" textLength="5.8" lengthAdjust="spacingAndGlyphs" font-style="italic">θ</text><text x="324.55" y="207.7" font-size="9.5" textLength="4" lengthAdjust="spacingAndGlyphs" font-style="italic">γ</text><text x="336.65" y="205.3" font-size="13" textLength="25.3" lengthAdjust="spacingAndGlyphs">[deg]</text>
<g transform="translate(235.4 164.0) rotate(-90)"><text x="0" y="0" font-size="13" textLength="7.2" lengthAdjust="spacingAndGlyphs">d</text><text x="7.9" y="-4.7" font-size="9" textLength="4.3" lengthAdjust="spacingAndGlyphs">2</text><text x="13.3" y="0" font-size="13" textLength="7.8" lengthAdjust="spacingAndGlyphs" font-style="italic">σ</text><text x="21.9" y="0" font-size="13" textLength="6.5" lengthAdjust="spacingAndGlyphs">/</text><text x="28" y="0" font-size="13" textLength="11.9" lengthAdjust="spacingAndGlyphs">(d</text><text x="40.1" y="0" font-size="13" textLength="8.3" lengthAdjust="spacingAndGlyphs">Ω</text><text x="48.5" y="2.2" font-size="9.5" textLength="5.3" lengthAdjust="spacingAndGlyphs" font-style="italic">α</text><text x="54.7" y="0" font-size="13" textLength="14.9" lengthAdjust="spacingAndGlyphs">dΩ</text><text x="69.8" y="2.2" font-size="9.5" textLength="4.6" lengthAdjust="spacingAndGlyphs" font-style="italic">γ</text><text x="76.6" y="0" font-size="13" textLength="5.4" lengthAdjust="spacingAndGlyphs">)</text><text x="87.8" y="0" font-size="13" textLength="22.8" lengthAdjust="spacingAndGlyphs">[mb</text><text x="110.5" y="0" font-size="13" textLength="7.4" lengthAdjust="spacingAndGlyphs">/</text><text x="117.8" y="0" font-size="13" textLength="9" lengthAdjust="spacingAndGlyphs">sr</text><text x="126.9" y="-4.7" font-size="9" textLength="4.5" lengthAdjust="spacingAndGlyphs">2</text><text x="131.6" y="0" font-size="13" textLength="5" lengthAdjust="spacingAndGlyphs">]</text></g>
<text x="272.4" y="38.8" font-size="13" textLength="17.3" lengthAdjust="spacingAndGlyphs">(b)</text>
<path d="M313.8 30.6 H331.4" stroke="#ff3030" stroke-width="0.8"/>
<text x="336" y="33.2" font-size="9" textLength="4.7" lengthAdjust="spacingAndGlyphs" fill="#4a4a4a">0</text><text x="341.3" y="30.1" font-size="7.5" textLength="4.6" lengthAdjust="spacingAndGlyphs" fill="#4a4a4a">+</text><path d="M350 30.9 H359.2" stroke="#4a4a4a" stroke-width="0.55" fill="none"/><path d="M357 29.4 Q358 30.6 359.2 30.9 Q358 31.2 357 32.4" stroke="#4a4a4a" stroke-width="0.55" fill="none"/><text x="362.6" y="33.2" font-size="9" textLength="4.6" lengthAdjust="spacingAndGlyphs" fill="#4a4a4a">1</text><text x="367.4" y="30.1" font-size="7.5" textLength="4.4" lengthAdjust="spacingAndGlyphs" fill="#4a4a4a">−</text><path d="M376.2 30.9 H385.6" stroke="#4a4a4a" stroke-width="0.55" fill="none"/><path d="M383.4 29.4 Q384.4 30.6 385.6 30.9 Q384.4 31.2 383.4 32.4" stroke="#4a4a4a" stroke-width="0.55" fill="none"/><text x="389" y="33.2" font-size="9" textLength="4.7" lengthAdjust="spacingAndGlyphs" fill="#4a4a4a">0</text><text x="394.3" y="30.1" font-size="7.5" textLength="4.6" lengthAdjust="spacingAndGlyphs" fill="#4a4a4a">+</text>
<path d="M313.8 42.7 H331.4" stroke="#228B22" stroke-width="0.8"/>
<text x="336" y="45.3" font-size="9" textLength="4.7" lengthAdjust="spacingAndGlyphs" fill="#4a4a4a">0</text><text x="341.3" y="42.2" font-size="7.5" textLength="4.6" lengthAdjust="spacingAndGlyphs" fill="#4a4a4a">+</text><path d="M350 43 H359.2" stroke="#4a4a4a" stroke-width="0.55" fill="none"/><path d="M357 41.5 Q358 42.7 359.2 43 Q358 43.3 357 44.5" stroke="#4a4a4a" stroke-width="0.55" fill="none"/><text x="362.6" y="45.3" font-size="9" textLength="4.6" lengthAdjust="spacingAndGlyphs" fill="#4a4a4a">3</text><text x="367.4" y="42.2" font-size="7.5" textLength="4.4" lengthAdjust="spacingAndGlyphs" fill="#4a4a4a">−</text><path d="M376.2 43 H385.6" stroke="#4a4a4a" stroke-width="0.55" fill="none"/><path d="M383.4 41.5 Q384.4 42.7 385.6 43 Q384.4 43.3 383.4 44.5" stroke="#4a4a4a" stroke-width="0.55" fill="none"/><text x="389" y="45.3" font-size="9" textLength="4.7" lengthAdjust="spacingAndGlyphs" fill="#4a4a4a">0</text><text x="394.3" y="42.2" font-size="7.5" textLength="4.6" lengthAdjust="spacingAndGlyphs" fill="#4a4a4a">+</text>
<path d="M313.8 53.7 H331.4" stroke="#555" stroke-width="1.3"/>
<rect x="320.5" y="51.6" width="4.2" height="4.2" fill="#000"/>
<text x="336" y="56.3" font-size="9" textLength="74.9" lengthAdjust="spacingAndGlyphs" fill="#4a4a4a">experimental data</text>
<clipPath id="cc"><rect x="48.5" y="232.5" width="365.5" height="151.7"/></clipPath>
<g clip-path="url(#cc)">
<path d="M48.5 350.96 L50.33 350.38 L52.16 349.81 L53.98 349.25 L55.81 348.72 L57.64 348.22 L59.47 347.74 L61.29 347.3 L63.12 346.89 L64.95 346.51 L66.78 346.16 L68.6 345.85 L70.43 345.58 L72.26 345.34 L74.09 345.14 L75.91 344.97 L77.74 344.84 L79.57 344.74 L81.39 344.68 L83.22 344.65 L85.05 344.65 L86.88 344.68 L88.7 344.75 L90.53 344.84 L92.36 344.96 L94.19 345.11 L96.02 345.29 L97.84 345.49 L99.67 345.72 L101.5 345.97 L103.32 346.24 L105.15 346.54 L106.98 346.87 L108.81 347.21 L110.64 347.58 L112.46 347.97 L114.29 348.38 L116.12 348.82 L117.95 349.27 L119.77 349.75 L121.6 350.25 L123.43 350.76 L125.25 351.3 L127.08 351.86 L128.91 352.43 L130.74 353.03 L132.56 353.64 L134.39 354.27 L136.22 354.91 L138.05 355.58 L139.88 356.25 L141.7 356.94 L143.53 357.64 L145.36 358.35 L147.19 359.07 L149.01 359.8 L150.84 360.54 L152.67 361.28 L154.5 362.02 L156.32 362.77 L158.15 363.51 L159.98 364.25 L161.81 364.99 L163.63 365.72 L165.46 366.45 L167.29 367.16 L169.12 367.86 L170.94 368.55 L172.77 369.23 L174.6 369.89 L176.43 370.53 L178.25 371.15 L180.08 371.76 L181.91 372.34 L183.73 372.9 L185.56 373.43 L187.39 373.95 L189.22 374.44 L191.05 374.9 L192.87 375.35 L194.7 375.77 L196.53 376.16 L198.35 376.53 L200.18 376.88 L202.01 377.21 L203.84 377.52 L205.66 377.81 L207.49 378.08 L209.32 378.33 L211.15 378.57 L212.97 378.79 L214.8 379 L216.63 379.19 L218.46 379.38 L220.28 379.55 L222.11 379.72 L223.94 379.88 L225.77 380.04 L227.59 380.19 L229.42 380.34 L231.25 380.49 L233.08 380.63 L234.91 380.78 L236.73 380.93 L238.56 381.08 L240.39 381.23 L242.22 381.38 L244.04 381.53 L245.87 381.68 L247.7 381.84 L249.53 381.99 L251.35 382.15 L253.18 382.3 L255.01 382.46 L256.83 382.6 L258.66 382.75 L260.49 382.89 L262.32 383.02 L264.14 383.14 L265.97 383.26 L267.8 383.36 L269.63 383.44 L271.45 383.52 L273.28 383.57 L275.11 383.61 L276.94 383.62 L278.76 383.61 L280.59 383.58 L282.42 383.53 L284.25 383.44 L286.08 383.33 L287.9 383.19 L289.73 383.02 L291.56 382.81 L293.38 382.58 L295.21 382.31 L297.04 382.01 L298.87 381.67 L300.69 381.31 L302.52 380.9 L304.35 380.47 L306.18 380 L308 379.49 L309.83 378.96 L311.66 378.39 L313.49 377.79 L315.31 377.17 L317.14 376.51 L318.97 375.83 L320.8 375.13 L322.62 374.4 L324.45 373.65 L326.28 372.87 L328.11 372.08 L329.94 371.27 L331.76 370.45 L333.59 369.61 L335.42 368.77 L337.25 367.91 L339.07 367.05 L340.9 366.17 L342.73 365.3 L344.56 364.42 L346.38 363.55 L348.21 362.67 L350.04 361.8 L351.87 360.94 L353.69 360.08 L355.52 359.23 L357.35 358.39 L359.18 357.57 L361 356.75 L362.83 355.96 L364.66 355.18 L366.49 354.41 L368.31 353.67 L370.14 352.95 L371.97 352.25 L373.8 351.58 L375.62 350.93 L377.45 350.31 L379.28 349.72 L381.11 349.16 L382.93 348.63 L384.76 348.13 L386.59 347.67 L388.42 347.24 L390.24 346.84 L392.07 346.49 L393.9 346.17 L395.72 345.88 L397.55 345.64 L399.38 345.44 L401.21 345.27 L403.03 345.15 L404.86 345.07 L406.69 345.02 L408.52 345.01 L410.34 345.04 L412.17 345.11 L414 345.21 L414 373.49 L412.17 373.42 L410.34 373.39 L408.52 373.38 L406.69 373.4 L404.86 373.43 L403.03 373.48 L401.21 373.53 L399.38 373.6 L397.55 373.67 L395.72 373.75 L393.9 373.83 L392.07 373.91 L390.24 374 L388.42 374.09 L386.59 374.18 L384.76 374.27 L382.93 374.37 L381.11 374.46 L379.28 374.57 L377.45 374.67 L375.62 374.79 L373.8 374.91 L371.97 375.03 L370.14 375.17 L368.31 375.31 L366.49 375.46 L364.66 375.62 L362.83 375.79 L361 375.97 L359.18 376.16 L357.35 376.36 L355.52 376.57 L353.69 376.79 L351.87 377.01 L350.04 377.25 L348.21 377.49 L346.38 377.74 L344.56 378 L342.73 378.26 L340.9 378.53 L339.07 378.8 L337.25 379.07 L335.42 379.34 L333.59 379.61 L331.76 379.89 L329.94 380.15 L328.11 380.42 L326.28 380.68 L324.45 380.94 L322.62 381.18 L320.8 381.43 L318.97 381.66 L317.14 381.88 L315.31 382.1 L313.49 382.3 L311.66 382.5 L309.83 382.68 L308 382.85 L306.18 383.01 L304.35 383.15 L302.52 383.29 L300.69 383.41 L298.87 383.52 L297.04 383.63 L295.21 383.71 L293.38 383.79 L291.56 383.86 L289.73 383.92 L287.9 383.96 L286.08 384 L284.25 384.03 L282.42 384.05 L280.59 384.07 L278.76 384.07 L276.94 384.07 L275.11 384.07 L273.28 384.06 L271.45 384.04 L269.63 384.02 L267.8 383.99 L265.97 383.97 L264.14 383.93 L262.32 383.9 L260.49 383.86 L258.66 383.83 L256.83 383.79 L255.01 383.74 L253.18 383.7 L251.35 383.66 L249.53 383.61 L247.7 383.56 L245.87 383.52 L244.04 383.47 L242.22 383.42 L240.39 383.37 L238.56 383.32 L236.73 383.27 L234.91 383.21 L233.08 383.16 L231.25 383.11 L229.42 383.05 L227.59 382.99 L225.77 382.93 L223.94 382.88 L222.11 382.81 L220.28 382.75 L218.46 382.69 L216.63 382.62 L214.8 382.55 L212.97 382.48 L211.15 382.41 L209.32 382.33 L207.49 382.25 L205.66 382.17 L203.84 382.09 L202.01 382 L200.18 381.91 L198.35 381.82 L196.53 381.73 L194.7 381.63 L192.87 381.52 L191.05 381.41 L189.22 381.3 L187.39 381.19 L185.56 381.06 L183.73 380.94 L181.91 380.81 L180.08 380.67 L178.25 380.53 L176.43 380.39 L174.6 380.24 L172.77 380.08 L170.94 379.92 L169.12 379.75 L167.29 379.58 L165.46 379.4 L163.63 379.22 L161.81 379.03 L159.98 378.84 L158.15 378.64 L156.32 378.44 L154.5 378.24 L152.67 378.03 L150.84 377.82 L149.01 377.61 L147.19 377.4 L145.36 377.19 L143.53 376.98 L141.7 376.76 L139.88 376.55 L138.05 376.35 L136.22 376.14 L134.39 375.94 L132.56 375.74 L130.74 375.55 L128.91 375.37 L127.08 375.19 L125.25 375.02 L123.43 374.86 L121.6 374.71 L119.77 374.57 L117.95 374.44 L116.12 374.32 L114.29 374.21 L112.46 374.11 L110.64 374.02 L108.81 373.95 L106.98 373.88 L105.15 373.83 L103.32 373.78 L101.5 373.75 L99.67 373.72 L97.84 373.71 L96.02 373.7 L94.19 373.69 L92.36 373.7 L90.53 373.71 L88.7 373.72 L86.88 373.74 L85.05 373.76 L83.22 373.78 L81.39 373.8 L79.57 373.82 L77.74 373.85 L75.91 373.87 L74.09 373.89 L72.26 373.92 L70.43 373.94 L68.6 373.97 L66.78 374.01 L64.95 374.04 L63.12 374.09 L61.29 374.15 L59.47 374.22 L57.64 374.31 L55.81 374.42 L53.98 374.56 L52.16 374.73 L50.33 374.95 L48.5 375.21 Z" fill="#90EE90" stroke="none"/>
<path d="M48.5 361.2 L50.33 360.83 L52.16 360.53 L53.98 360.29 L55.81 360.09 L57.64 359.94 L59.47 359.83 L61.29 359.74 L63.12 359.68 L64.95 359.64 L66.78 359.61 L68.6 359.59 L70.43 359.58 L72.26 359.57 L74.09 359.57 L75.91 359.57 L77.74 359.57 L79.57 359.57 L81.39 359.57 L83.22 359.57 L85.05 359.57 L86.88 359.58 L88.7 359.58 L90.53 359.59 L92.36 359.61 L94.19 359.63 L96.02 359.66 L97.84 359.69 L99.67 359.75 L101.5 359.81 L103.32 359.89 L105.15 359.98 L106.98 360.1 L108.81 360.23 L110.64 360.38 L112.46 360.56 L114.29 360.75 L116.12 360.97 L117.95 361.22 L119.77 361.48 L121.6 361.77 L123.43 362.08 L125.25 362.42 L127.08 362.78 L128.91 363.16 L130.74 363.55 L132.56 363.97 L134.39 364.41 L136.22 364.87 L138.05 365.34 L139.88 365.82 L141.7 366.31 L143.53 366.82 L145.36 367.33 L147.19 367.85 L149.01 368.37 L150.84 368.9 L152.67 369.43 L154.5 369.95 L156.32 370.47 L158.15 370.99 L159.98 371.5 L161.81 372 L163.63 372.49 L165.46 372.98 L167.29 373.44 L169.12 373.9 L170.94 374.34 L172.77 374.77 L174.6 375.18 L176.43 375.57 L178.25 375.95 L180.08 376.31 L181.91 376.65 L183.73 376.98 L185.56 377.29 L187.39 377.58 L189.22 377.86 L191.05 378.12 L192.87 378.36 L194.7 378.59 L196.53 378.8 L198.35 379.01 L200.18 379.2 L202.01 379.37 L203.84 379.54 L205.66 379.7 L207.49 379.85 L209.32 379.99 L211.15 380.13 L212.97 380.26 L214.8 380.38 L216.63 380.5 L218.46 380.62 L220.28 380.74 L222.11 380.85 L223.94 380.96 L225.77 381.08 L227.59 381.19 L229.42 381.3 L231.25 381.42 L233.08 381.53 L234.91 381.65 L236.73 381.76 L238.56 381.88 L240.39 382 L242.22 382.12 L244.04 382.24 L245.87 382.36 L247.7 382.49 L249.53 382.61 L251.35 382.73 L253.18 382.84 L255.01 382.96 L256.83 383.07 L258.66 383.18 L260.49 383.28 L262.32 383.37 L264.14 383.46 L265.97 383.54 L267.8 383.62 L269.63 383.68 L271.45 383.73 L273.28 383.77 L275.11 383.8 L276.94 383.81 L278.76 383.81 L280.59 383.79 L282.42 383.76 L284.25 383.71 L286.08 383.64 L287.9 383.55 L289.73 383.44 L291.56 383.31 L293.38 383.16 L295.21 382.99 L297.04 382.8 L298.87 382.59 L300.69 382.35 L302.52 382.09 L304.35 381.81 L306.18 381.51 L308 381.19 L309.83 380.84 L311.66 380.47 L313.49 380.08 L315.31 379.67 L317.14 379.25 L318.97 378.8 L320.8 378.34 L322.62 377.85 L324.45 377.36 L326.28 376.84 L328.11 376.32 L329.94 375.78 L331.76 375.23 L333.59 374.68 L335.42 374.11 L337.25 373.54 L339.07 372.96 L340.9 372.38 L342.73 371.8 L344.56 371.22 L346.38 370.64 L348.21 370.06 L350.04 369.49 L351.87 368.93 L353.69 368.37 L355.52 367.82 L357.35 367.28 L359.18 366.75 L361 366.24 L362.83 365.74 L364.66 365.25 L366.49 364.78 L368.31 364.32 L370.14 363.89 L371.97 363.47 L373.8 363.07 L375.62 362.68 L377.45 362.32 L379.28 361.97 L381.11 361.65 L382.93 361.34 L384.76 361.05 L386.59 360.78 L388.42 360.53 L390.24 360.3 L392.07 360.09 L393.9 359.89 L395.72 359.72 L397.55 359.56 L399.38 359.42 L401.21 359.3 L403.03 359.2 L404.86 359.13 L406.69 359.07 L408.52 359.03 L410.34 359.02 L412.17 359.03 L414 359.07" fill="none" stroke="#006c00" stroke-width="0.8" stroke-linejoin="round"/>
<path d="M48.5 359.2 L50.33 359.99 L52.16 360.64 L53.98 361.17 L55.81 361.59 L57.64 361.93 L59.47 362.19 L61.29 362.39 L63.12 362.54 L64.95 362.65 L66.78 362.72 L68.6 362.75 L70.43 362.76 L72.26 362.75 L74.09 362.71 L75.91 362.65 L77.74 362.56 L79.57 362.45 L81.39 362.31 L83.22 362.14 L85.05 361.94 L86.88 361.71 L88.7 361.44 L90.53 361.12 L92.36 360.76 L94.19 360.36 L96.02 359.9 L97.84 359.39 L99.67 358.82 L101.5 358.2 L103.32 357.51 L105.15 356.77 L106.98 355.96 L108.81 355.09 L110.64 354.17 L112.46 353.18 L114.29 352.13 L116.12 351.03 L117.95 349.87 L119.77 348.66 L121.6 347.4 L123.43 346.09 L125.25 344.75 L127.08 343.36 L128.91 341.94 L130.74 340.49 L132.56 339.02 L134.39 337.52 L136.22 336 L138.05 334.48 L139.88 332.94 L141.7 331.4 L143.53 329.86 L145.36 328.33 L147.19 326.8 L149.01 325.28 L150.84 323.78 L152.67 322.29 L154.5 320.82 L156.32 319.37 L158.15 317.95 L159.98 316.55 L161.81 315.17 L163.63 313.83 L165.46 312.51 L167.29 311.22 L169.12 309.97 L170.94 308.74 L172.77 307.54 L174.6 306.37 L176.43 305.23 L178.25 304.12 L180.08 303.04 L181.91 301.99 L183.73 300.96 L185.56 299.96 L187.39 298.99 L189.22 298.05 L191.05 297.13 L192.87 296.24 L194.7 295.38 L196.53 294.54 L198.35 293.73 L200.18 292.95 L202.01 292.19 L203.84 291.46 L205.66 290.76 L207.49 290.09 L209.32 289.45 L211.15 288.84 L212.97 288.26 L214.8 287.72 L216.63 287.22 L218.46 286.75 L220.28 286.31 L222.11 285.92 L223.94 285.57 L225.77 285.26 L227.59 285 L229.42 284.78 L231.25 284.6 L233.08 284.48 L234.91 284.4 L236.73 284.37 L238.56 284.39 L240.39 284.46 L242.22 284.58 L244.04 284.75 L245.87 284.97 L247.7 285.24 L249.53 285.56 L251.35 285.93 L253.18 286.35 L255.01 286.82 L256.83 287.34 L258.66 287.9 L260.49 288.51 L262.32 289.16 L264.14 289.86 L265.97 290.59 L267.8 291.37 L269.63 292.18 L271.45 293.03 L273.28 293.91 L275.11 294.83 L276.94 295.78 L278.76 296.76 L280.59 297.77 L282.42 298.8 L284.25 299.86 L286.08 300.95 L287.9 302.06 L289.73 303.19 L291.56 304.35 L293.38 305.52 L295.21 306.71 L297.04 307.93 L298.87 309.16 L300.69 310.4 L302.52 311.67 L304.35 312.95 L306.18 314.24 L308 315.55 L309.83 316.87 L311.66 318.2 L313.49 319.55 L315.31 320.9 L317.14 322.27 L318.97 323.64 L320.8 325.02 L322.62 326.41 L324.45 327.8 L326.28 329.19 L328.11 330.58 L329.94 331.97 L331.76 333.36 L333.59 334.74 L335.42 336.11 L337.25 337.47 L339.07 338.81 L340.9 340.14 L342.73 341.45 L344.56 342.74 L346.38 344 L348.21 345.24 L350.04 346.44 L351.87 347.61 L353.69 348.75 L355.52 349.85 L357.35 350.9 L359.18 351.92 L361 352.89 L362.83 353.82 L364.66 354.7 L366.49 355.53 L368.31 356.31 L370.14 357.05 L371.97 357.73 L373.8 358.37 L375.62 358.96 L377.45 359.5 L379.28 359.99 L381.11 360.44 L382.93 360.85 L384.76 361.21 L386.59 361.54 L388.42 361.82 L390.24 362.07 L392.07 362.29 L393.9 362.47 L395.72 362.62 L397.55 362.74 L399.38 362.82 L401.21 362.88 L403.03 362.9 L404.86 362.89 L406.69 362.83 L408.52 362.74 L410.34 362.6 L412.17 362.41 L414 362.17 L414 366.76 L412.17 366.95 L410.34 367.11 L408.52 367.21 L406.69 367.29 L404.86 367.33 L403.03 367.34 L401.21 367.32 L399.38 367.28 L397.55 367.21 L395.72 367.12 L393.9 367 L392.07 366.86 L390.24 366.69 L388.42 366.49 L386.59 366.26 L384.76 366 L382.93 365.71 L381.11 365.39 L379.28 365.04 L377.45 364.64 L375.62 364.22 L373.8 363.75 L371.97 363.25 L370.14 362.7 L368.31 362.12 L366.49 361.5 L364.66 360.85 L362.83 360.15 L361 359.42 L359.18 358.65 L357.35 357.84 L355.52 357.01 L353.69 356.14 L351.87 355.24 L350.04 354.31 L348.21 353.36 L346.38 352.38 L344.56 351.38 L342.73 350.36 L340.9 349.32 L339.07 348.27 L337.25 347.21 L335.42 346.13 L333.59 345.04 L331.76 343.95 L329.94 342.86 L328.11 341.76 L326.28 340.65 L324.45 339.55 L322.62 338.45 L320.8 337.36 L318.97 336.26 L317.14 335.18 L315.31 334.1 L313.49 333.02 L311.66 331.96 L309.83 330.9 L308 329.86 L306.18 328.82 L304.35 327.8 L302.52 326.78 L300.69 325.78 L298.87 324.8 L297.04 323.82 L295.21 322.86 L293.38 321.92 L291.56 320.99 L289.73 320.07 L287.9 319.18 L286.08 318.3 L284.25 317.44 L282.42 316.6 L280.59 315.78 L278.76 314.98 L276.94 314.21 L275.11 313.46 L273.28 312.73 L271.45 312.03 L269.63 311.36 L267.8 310.71 L265.97 310.1 L264.14 309.52 L262.32 308.97 L260.49 308.45 L258.66 307.97 L256.83 307.53 L255.01 307.12 L253.18 306.75 L251.35 306.41 L249.53 306.12 L247.7 305.86 L245.87 305.65 L244.04 305.47 L242.22 305.34 L240.39 305.24 L238.56 305.19 L236.73 305.17 L234.91 305.2 L233.08 305.26 L231.25 305.36 L229.42 305.5 L227.59 305.67 L225.77 305.88 L223.94 306.13 L222.11 306.4 L220.28 306.71 L218.46 307.06 L216.63 307.43 L214.8 307.83 L212.97 308.26 L211.15 308.71 L209.32 309.2 L207.49 309.7 L205.66 310.23 L203.84 310.79 L202.01 311.36 L200.18 311.96 L198.35 312.58 L196.53 313.23 L194.7 313.89 L192.87 314.57 L191.05 315.28 L189.22 316 L187.39 316.75 L185.56 317.52 L183.73 318.31 L181.91 319.12 L180.08 319.95 L178.25 320.81 L176.43 321.69 L174.6 322.59 L172.77 323.52 L170.94 324.46 L169.12 325.44 L167.29 326.43 L165.46 327.45 L163.63 328.5 L161.81 329.56 L159.98 330.65 L158.15 331.75 L156.32 332.88 L154.5 334.03 L152.67 335.19 L150.84 336.37 L149.01 337.56 L147.19 338.76 L145.36 339.97 L143.53 341.19 L141.7 342.41 L139.88 343.62 L138.05 344.84 L136.22 346.05 L134.39 347.25 L132.56 348.43 L130.74 349.6 L128.91 350.75 L127.08 351.87 L125.25 352.97 L123.43 354.04 L121.6 355.07 L119.77 356.07 L117.95 357.02 L116.12 357.94 L114.29 358.81 L112.46 359.64 L110.64 360.43 L108.81 361.16 L106.98 361.85 L105.15 362.48 L103.32 363.07 L101.5 363.62 L99.67 364.11 L97.84 364.56 L96.02 364.96 L94.19 365.33 L92.36 365.65 L90.53 365.93 L88.7 366.18 L86.88 366.4 L85.05 366.58 L83.22 366.74 L81.39 366.87 L79.57 366.98 L77.74 367.07 L75.91 367.14 L74.09 367.19 L72.26 367.22 L70.43 367.23 L68.6 367.22 L66.78 367.19 L64.95 367.14 L63.12 367.06 L61.29 366.94 L59.47 366.78 L57.64 366.57 L55.81 366.3 L53.98 365.97 L52.16 365.55 L50.33 365.03 L48.5 364.41 Z" fill="#F08080" stroke="none"/>
<path d="M48.5 361.84 L50.33 362.54 L52.16 363.12 L53.98 363.6 L55.81 363.98 L57.64 364.28 L59.47 364.51 L61.29 364.69 L63.12 364.83 L64.95 364.92 L66.78 364.98 L68.6 365.02 L70.43 365.03 L72.26 365.01 L74.09 364.98 L75.91 364.92 L77.74 364.84 L79.57 364.75 L81.39 364.62 L83.22 364.47 L85.05 364.29 L86.88 364.08 L88.7 363.84 L90.53 363.56 L92.36 363.24 L94.19 362.87 L96.02 362.46 L97.84 362.01 L99.67 361.5 L101.5 360.94 L103.32 360.33 L105.15 359.66 L106.98 358.94 L108.81 358.17 L110.64 357.34 L112.46 356.45 L114.29 355.52 L116.12 354.53 L117.95 353.49 L119.77 352.41 L121.6 351.28 L123.43 350.12 L125.25 348.91 L127.08 347.67 L128.91 346.4 L130.74 345.1 L132.56 343.78 L134.39 342.45 L136.22 341.09 L138.05 339.73 L139.88 338.35 L141.7 336.98 L143.53 335.6 L145.36 334.22 L147.19 332.86 L149.01 331.5 L150.84 330.15 L152.67 328.82 L154.5 327.51 L156.32 326.21 L158.15 324.94 L159.98 323.69 L161.81 322.46 L163.63 321.26 L165.46 320.08 L167.29 318.93 L169.12 317.8 L170.94 316.7 L172.77 315.63 L174.6 314.58 L176.43 313.57 L178.25 312.57 L180.08 311.61 L181.91 310.66 L183.73 309.75 L185.56 308.85 L187.39 307.99 L189.22 307.14 L191.05 306.32 L192.87 305.53 L194.7 304.75 L196.53 304 L198.35 303.28 L200.18 302.58 L202.01 301.9 L203.84 301.25 L205.66 300.62 L207.49 300.02 L209.32 299.45 L211.15 298.91 L212.97 298.39 L214.8 297.91 L216.63 297.45 L218.46 297.03 L220.28 296.65 L222.11 296.3 L223.94 295.98 L225.77 295.71 L227.59 295.47 L229.42 295.27 L231.25 295.11 L233.08 295 L234.91 294.93 L236.73 294.9 L238.56 294.92 L240.39 294.98 L242.22 295.09 L244.04 295.24 L245.87 295.44 L247.7 295.68 L249.53 295.97 L251.35 296.31 L253.18 296.68 L255.01 297.1 L256.83 297.56 L258.66 298.07 L260.49 298.61 L262.32 299.19 L264.14 299.81 L265.97 300.47 L267.8 301.17 L269.63 301.89 L271.45 302.65 L273.28 303.44 L275.11 304.26 L276.94 305.11 L278.76 305.99 L280.59 306.89 L282.42 307.82 L284.25 308.76 L286.08 309.74 L287.9 310.73 L289.73 311.74 L291.56 312.77 L293.38 313.82 L295.21 314.89 L297.04 315.98 L298.87 317.08 L300.69 318.19 L302.52 319.32 L304.35 320.47 L306.18 321.62 L308 322.79 L309.83 323.98 L311.66 325.17 L313.49 326.37 L315.31 327.58 L317.14 328.81 L318.97 330.03 L320.8 331.27 L322.62 332.51 L324.45 333.75 L326.28 334.99 L328.11 336.24 L329.94 337.48 L331.76 338.72 L333.59 339.96 L335.42 341.18 L337.25 342.4 L339.07 343.6 L340.9 344.79 L342.73 345.96 L344.56 347.11 L346.38 348.24 L348.21 349.35 L350.04 350.43 L351.87 351.47 L353.69 352.49 L355.52 353.47 L357.35 354.42 L359.18 355.33 L361 356.2 L362.83 357.02 L364.66 357.81 L366.49 358.55 L368.31 359.25 L370.14 359.91 L371.97 360.52 L373.8 361.09 L375.62 361.62 L377.45 362.1 L379.28 362.55 L381.11 362.95 L382.93 363.31 L384.76 363.64 L386.59 363.93 L388.42 364.19 L390.24 364.41 L392.07 364.6 L393.9 364.76 L395.72 364.9 L397.55 365 L399.38 365.08 L401.21 365.13 L403.03 365.15 L404.86 365.13 L406.69 365.09 L408.52 365.01 L410.34 364.88 L412.17 364.71 L414 364.49" fill="none" stroke="#ff0000" stroke-width="0.9" stroke-linejoin="round"/>
</g>
<path d="M57.64 363.47 V370.55" stroke="#111" stroke-width="0.8"/><rect x="55.54" y="364.91" width="4.2" height="4.2" fill="#000"/>
<path d="M130.74 344 V352.09" stroke="#111" stroke-width="0.8"/><rect x="128.64" y="345.94" width="4.2" height="4.2" fill="#000"/>
<path d="M189.22 310.98 V330.5" stroke="#111" stroke-width="0.8"/><rect x="187.12" y="318.64" width="4.2" height="4.2" fill="#000"/>
<path d="M276.94 277.25 V306.28" stroke="#111" stroke-width="0.8"/><rect x="274.84" y="289.66" width="4.2" height="4.2" fill="#000"/>
<path d="M331.76 313.56 V325.39" stroke="#111" stroke-width="0.8"/><rect x="329.66" y="317.37" width="4.2" height="4.2" fill="#000"/>
<path d="M395.72 369.94 V377.02" stroke="#111" stroke-width="0.8"/><rect x="393.62" y="371.38" width="4.2" height="4.2" fill="#000"/>
<path d="M48.5 384.2 v-3.6 M48.5 232.5 v3.6" stroke="#2a2a2a" stroke-width="0.95" fill="none"/>
<path d="M85.05 384.2 v-1.8 M85.05 232.5 v1.8" stroke="#2a2a2a" stroke-width="0.95" fill="none"/>
<path d="M121.6 384.2 v-3.6 M121.6 232.5 v3.6" stroke="#2a2a2a" stroke-width="0.95" fill="none"/>
<path d="M158.15 384.2 v-1.8 M158.15 232.5 v1.8" stroke="#2a2a2a" stroke-width="0.95" fill="none"/>
<path d="M194.7 384.2 v-3.6 M194.7 232.5 v3.6" stroke="#2a2a2a" stroke-width="0.95" fill="none"/>
<path d="M231.25 384.2 v-1.8 M231.25 232.5 v1.8" stroke="#2a2a2a" stroke-width="0.95" fill="none"/>
<path d="M267.8 384.2 v-3.6 M267.8 232.5 v3.6" stroke="#2a2a2a" stroke-width="0.95" fill="none"/>
<path d="M304.35 384.2 v-1.8 M304.35 232.5 v1.8" stroke="#2a2a2a" stroke-width="0.95" fill="none"/>
<path d="M340.9 384.2 v-3.6 M340.9 232.5 v3.6" stroke="#2a2a2a" stroke-width="0.95" fill="none"/>
<path d="M377.45 384.2 v-1.8 M377.45 232.5 v1.8" stroke="#2a2a2a" stroke-width="0.95" fill="none"/>
<path d="M414 384.2 v-3.6 M414 232.5 v3.6" stroke="#2a2a2a" stroke-width="0.95" fill="none"/>
<path d="M48.5 358.92 h1.8 M414.0 358.92 h-1.8" stroke="#2a2a2a" stroke-width="0.95" fill="none"/>
<path d="M48.5 308.35 h1.8 M414.0 308.35 h-1.8" stroke="#2a2a2a" stroke-width="0.95" fill="none"/>
<path d="M48.5 257.78 h1.8 M414.0 257.78 h-1.8" stroke="#2a2a2a" stroke-width="0.95" fill="none"/>
<path d="M48.5 384.2 h3.6 M414.0 384.2 h-3.6" stroke="#2a2a2a" stroke-width="0.95" fill="none"/>
<path d="M48.5 333.63 h3.6 M414.0 333.63 h-3.6" stroke="#2a2a2a" stroke-width="0.95" fill="none"/>
<path d="M48.5 283.07 h3.6 M414.0 283.07 h-3.6" stroke="#2a2a2a" stroke-width="0.95" fill="none"/>
<path d="M48.5 232.5 h3.6 M414.0 232.5 h-3.6" stroke="#2a2a2a" stroke-width="0.95" fill="none"/>
<rect x="48.5" y="232.5" width="365.5" height="151.7" fill="none" stroke="#444444" stroke-width="0.9"/>
<text x="48.5" y="399.2" font-size="10.8" text-anchor="middle">80</text>
<text x="121.6" y="399.2" font-size="10.8" text-anchor="middle">120</text>
<text x="194.7" y="399.2" font-size="10.8" text-anchor="middle">160</text>
<text x="267.8" y="399.2" font-size="10.8" text-anchor="middle">200</text>
<text x="340.9" y="399.2" font-size="10.8" text-anchor="middle">240</text>
<text x="414" y="399.2" font-size="10.8" text-anchor="middle">280</text>
<text x="40.9" y="387.8" font-size="10.8" text-anchor="end">0.0</text>
<text x="40.9" y="337.23" font-size="10.8" text-anchor="end">0.1</text>
<text x="40.9" y="286.67" font-size="10.8" text-anchor="end">0.2</text>
<text x="40.9" y="236.1" font-size="10.8" text-anchor="end">0.3</text>
<text x="191.95" y="225.6" font-size="13" textLength="9" lengthAdjust="spacingAndGlyphs">E</text><text x="200.15" y="228" font-size="9.5" textLength="4.2" lengthAdjust="spacingAndGlyphs" font-style="italic">γ</text><text x="205.05" y="225.6" font-size="13" textLength="11.2" lengthAdjust="spacingAndGlyphs">=</text><text x="216.25" y="225.6" font-size="13" textLength="26" lengthAdjust="spacingAndGlyphs">7651</text><text x="247.15" y="225.6" font-size="13" textLength="23.4" lengthAdjust="spacingAndGlyphs">keV</text>
<text x="208.95" y="416.8" font-size="13" textLength="5.8" lengthAdjust="spacingAndGlyphs" font-style="italic">θ</text><text x="215.05" y="419.2" font-size="9.5" textLength="4" lengthAdjust="spacingAndGlyphs" font-style="italic">γ</text><text x="227.15" y="416.8" font-size="13" textLength="25.3" lengthAdjust="spacingAndGlyphs">[deg]</text>
<g transform="translate(18.9 375.6) rotate(-90)"><text x="0" y="0" font-size="13" textLength="7.2" lengthAdjust="spacingAndGlyphs">d</text><text x="7.9" y="-4.7" font-size="9" textLength="4.3" lengthAdjust="spacingAndGlyphs">2</text><text x="13.3" y="0" font-size="13" textLength="7.8" lengthAdjust="spacingAndGlyphs" font-style="italic">σ</text><text x="21.9" y="0" font-size="13" textLength="6.5" lengthAdjust="spacingAndGlyphs">/</text><text x="28" y="0" font-size="13" textLength="11.9" lengthAdjust="spacingAndGlyphs">(d</text><text x="40.1" y="0" font-size="13" textLength="8.3" lengthAdjust="spacingAndGlyphs">Ω</text><text x="48.5" y="2.2" font-size="9.5" textLength="5.3" lengthAdjust="spacingAndGlyphs" font-style="italic">α</text><text x="54.7" y="0" font-size="13" textLength="14.9" lengthAdjust="spacingAndGlyphs">dΩ</text><text x="69.8" y="2.2" font-size="9.5" textLength="4.6" lengthAdjust="spacingAndGlyphs" font-style="italic">γ</text><text x="76.6" y="0" font-size="13" textLength="5.4" lengthAdjust="spacingAndGlyphs">)</text><text x="87.8" y="0" font-size="13" textLength="22.8" lengthAdjust="spacingAndGlyphs">[mb</text><text x="110.5" y="0" font-size="13" textLength="7.4" lengthAdjust="spacingAndGlyphs">/</text><text x="117.8" y="0" font-size="13" textLength="9" lengthAdjust="spacingAndGlyphs">sr</text><text x="126.9" y="-4.7" font-size="9" textLength="4.5" lengthAdjust="spacingAndGlyphs">2</text><text x="131.6" y="0" font-size="13" textLength="5" lengthAdjust="spacingAndGlyphs">]</text></g>
<text x="56.3" y="250.2" font-size="13" textLength="15.3" lengthAdjust="spacingAndGlyphs">(c)</text>
<path d="M310.8 241.9 H328.7" stroke="#ff3030" stroke-width="0.8"/>
<text x="333.5" y="244.6" font-size="9" textLength="4.7" lengthAdjust="spacingAndGlyphs" fill="#4a4a4a">0</text><text x="338.8" y="241.5" font-size="7.5" textLength="4.6" lengthAdjust="spacingAndGlyphs" fill="#4a4a4a">+</text><path d="M347.5 242.3 H356.7" stroke="#4a4a4a" stroke-width="0.55" fill="none"/><path d="M354.5 240.8 Q355.5 242 356.7 242.3 Q355.5 242.6 354.5 243.8" stroke="#4a4a4a" stroke-width="0.55" fill="none"/><text x="360.1" y="244.6" font-size="9" textLength="4.6" lengthAdjust="spacingAndGlyphs" fill="#4a4a4a">1</text><text x="364.9" y="241.5" font-size="7.5" textLength="4.4" lengthAdjust="spacingAndGlyphs" fill="#4a4a4a">−</text><path d="M373.7 242.3 H383.1" stroke="#4a4a4a" stroke-width="0.55" fill="none"/><path d="M380.9 240.8 Q381.9 242 383.1 242.3 Q381.9 242.6 380.9 243.8" stroke="#4a4a4a" stroke-width="0.55" fill="none"/><text x="386.5" y="244.6" font-size="9" textLength="4.7" lengthAdjust="spacingAndGlyphs" fill="#4a4a4a">0</text><text x="391.8" y="241.5" font-size="7.5" textLength="4.6" lengthAdjust="spacingAndGlyphs" fill="#4a4a4a">+</text>
<path d="M310.8 253.7 H328.7" stroke="#228B22" stroke-width="0.8"/>
<text x="333.5" y="256.5" font-size="9" textLength="4.7" lengthAdjust="spacingAndGlyphs" fill="#4a4a4a">0</text><text x="338.8" y="253.4" font-size="7.5" textLength="4.6" lengthAdjust="spacingAndGlyphs" fill="#4a4a4a">+</text><path d="M347.5 254.2 H356.7" stroke="#4a4a4a" stroke-width="0.55" fill="none"/><path d="M354.5 252.7 Q355.5 253.9 356.7 254.2 Q355.5 254.5 354.5 255.7" stroke="#4a4a4a" stroke-width="0.55" fill="none"/><text x="360.1" y="256.5" font-size="9" textLength="4.6" lengthAdjust="spacingAndGlyphs" fill="#4a4a4a">3</text><text x="364.9" y="253.4" font-size="7.5" textLength="4.4" lengthAdjust="spacingAndGlyphs" fill="#4a4a4a">−</text><path d="M373.7 254.2 H383.1" stroke="#4a4a4a" stroke-width="0.55" fill="none"/><path d="M380.9 252.7 Q381.9 253.9 383.1 254.2 Q381.9 254.5 380.9 255.7" stroke="#4a4a4a" stroke-width="0.55" fill="none"/><text x="386.5" y="256.5" font-size="9" textLength="4.7" lengthAdjust="spacingAndGlyphs" fill="#4a4a4a">0</text><text x="391.8" y="253.4" font-size="7.5" textLength="4.6" lengthAdjust="spacingAndGlyphs" fill="#4a4a4a">+</text>
<path d="M310.8 265.2 H328.7" stroke="#333" stroke-width="0.8"/>
<rect x="317.8" y="263.1" width="4.2" height="4.2" fill="#000"/>
<text x="333.5" y="267.8" font-size="9" textLength="75.2" lengthAdjust="spacingAndGlyphs" fill="#4a4a4a">experimental data</text>
</svg>
</body></html>
